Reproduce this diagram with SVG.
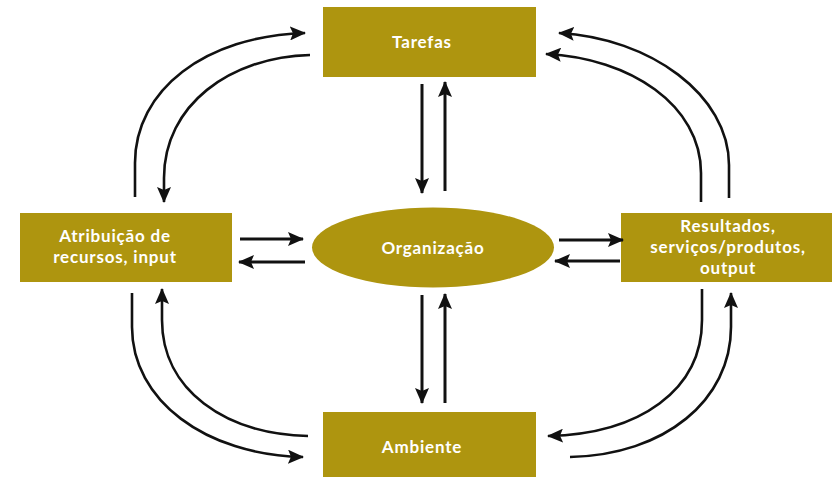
<svg xmlns="http://www.w3.org/2000/svg" width="832" height="477" viewBox="0 0 832 477">
<style>
.box{fill:#ae950f}
.lbl{fill:#ffffff;font-family:Lato,"Open Sans",sans-serif;font-size:17px;font-weight:700;letter-spacing:0.8px;text-anchor:middle}
.st{fill:none;stroke:#111;stroke-width:3;marker-end:url(#ah)}
.cv{fill:none;stroke:#111;stroke-width:2.6;marker-end:url(#ah)}
</style>
<defs>
<marker id="ah" viewBox="0 0 16 14" refX="15" refY="7" markerWidth="16" markerHeight="14" markerUnits="userSpaceOnUse" orient="auto">
<path d="M0,0 L16,7 L0,14 L3,7 z" fill="#111"/>
</marker>
</defs>
<rect width="832" height="477" fill="#ffffff"/>
<g id="tarefas">
<rect class="box" x="323" y="7" width="213" height="70"/>
<text class="lbl" x="422" y="48">Tarefas</text>
</g>
<g id="organizacao">
<ellipse class="box" cx="433" cy="247.5" rx="121" ry="40"/>
<text class="lbl" x="433" y="254">Organização</text>
</g>
<g id="atribuicao">
<rect class="box" x="20" y="213" width="212" height="69"/>
<text class="lbl" x="115" y="242">Atribuição de</text>
<text class="lbl" x="115" y="263">recursos, input</text>
</g>
<g id="resultados">
<rect class="box" x="621" y="213" width="211" height="69"/>
<text class="lbl" x="728" y="232">Resultados,</text>
<text class="lbl" x="728" y="253">serviços/produtos,</text>
<text class="lbl" x="728" y="274">output</text>
</g>
<g id="ambiente">
<rect class="box" x="323" y="412" width="213" height="65"/>
<text class="lbl" x="422" y="453">Ambiente</text>
</g>
<g id="connectors">
<path class="st" d="M422,84 V193"/>
<path class="st" d="M445,191 V82"/>
<path class="st" d="M422,295 V403"/>
<path class="st" d="M445,403 V294"/>
<path class="st" d="M240,239 H303"/>
<path class="st" d="M305,262 H239"/>
<path class="st" d="M559,240 H623"/>
<path class="st" d="M620,261 H555"/>
<path class="cv" d="M135,197 V163 C135,90 205,36 305,33"/>
<path class="cv" d="M310,55 C230,57 164,105 164,178 V202"/>
<path class="cv" d="M729,198 V165 C729,95 650,38 559,33"/>
<path class="cv" d="M701,202 V173 C701,105 630,58 546,54"/>
<path class="cv" d="M132,293 V327 C132,400 205,455 303,457"/>
<path class="cv" d="M308,436 C225,434 162,390 162,320 V289"/>
<path class="cv" d="M702,289 V320 C702,390 640,434 548,436"/>
<path class="cv" d="M570,457 C665,455 731,400 731,327 V293"/>
</g>
</svg>
